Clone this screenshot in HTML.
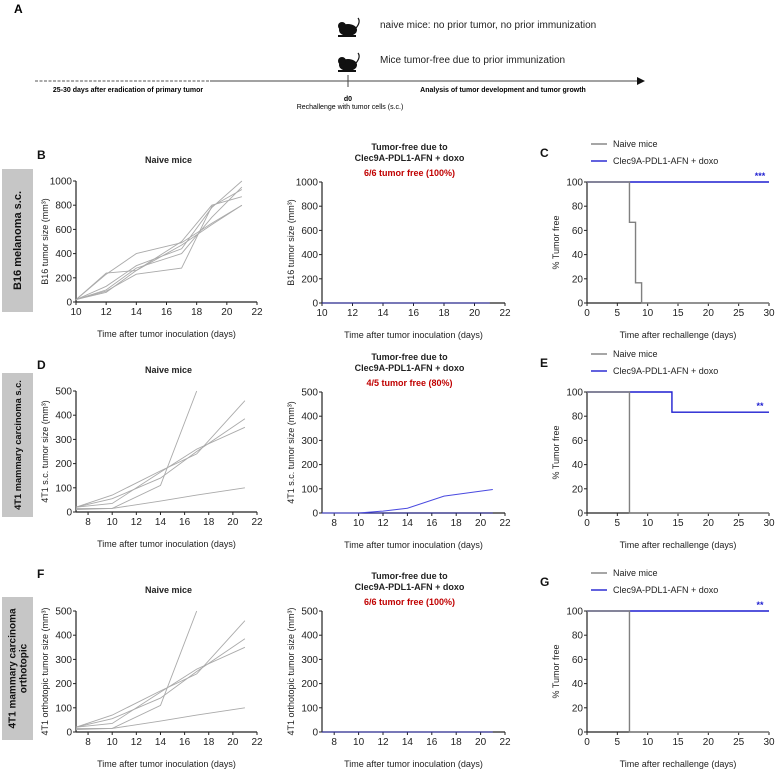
<!DOCTYPE html>
<html><head><meta charset="utf-8"><style>
body{margin:0;background:#fff}
svg{display:block;font-family:"Liberation Sans",Arial,sans-serif}
</style></head><body>
<svg id="fig" width="777" height="769" viewBox="0 0 777 769">
<g>
<text x="14" y="13" font-size="12" font-weight="bold">A</text>
<g transform="translate(337,18)">
<ellipse cx="11" cy="12" rx="9" ry="6" fill="#111"/><circle cx="5" cy="8" r="4" fill="#111"/><path d="M19 10 Q24 4 21 0" stroke="#111" fill="none" stroke-width="1.2"/><rect x="1" y="17" width="18" height="2" fill="#111"/></g>
<g transform="translate(337,53)">
<ellipse cx="11" cy="12" rx="9" ry="6" fill="#111"/><circle cx="5" cy="8" r="4" fill="#111"/><path d="M19 10 Q24 4 21 0" stroke="#111" fill="none" stroke-width="1.2"/><rect x="1" y="17" width="18" height="2" fill="#111"/></g>
<text x="380" y="28" font-size="10" fill="#222">naive mice: no prior tumor, no prior immunization</text>
<text x="380" y="63" font-size="10" fill="#222">Mice tumor-free due to prior immunization</text>
<line x1="35" y1="81" x2="210" y2="81" stroke="#555" stroke-dasharray="3,1.5"/>
<line x1="210" y1="81" x2="638" y2="81" stroke="#444"/>
<polygon points="637,77 645,81 637,85" fill="#111"/>
<line x1="348" y1="75" x2="348" y2="87" stroke="#444"/>
<text x="128" y="92" font-size="7" font-weight="bold" text-anchor="middle">25-30 days after eradication of primary tumor</text>
<text x="503" y="92" font-size="7" font-weight="bold" text-anchor="middle">Analysis of tumor development and tumor growth</text>
<text x="348" y="101" font-size="7" font-weight="bold" text-anchor="middle">d0</text>
<text x="350" y="109" font-size="7" text-anchor="middle">Rechallenge with tumor cells (s.c.)</text>
</g>
<g id="charts"></g>
</svg>
<script>
// ---- Data ----
const b16Days = [10, 12, 14, 17, 19, 21];
const b16Naive1 = [20, 240, 260, 500, 800, 870];
const b16Naive2 = [20, 230, 400, 490, 650, 800];
const b16Naive3 = [20, 130, 300, 440, 780, 1000];
const b16Naive4 = [20, 100, 280, 400, 700, 950];
const b16Naive5 = [20, 90, 230, 280, 790, 930];
const b16Naive6 = [20, 80, 260, 470, 640, 800];
const b16Treated = [0, 0, 0, 0, 0, 0];
const b16YTicks = [0, 200, 400, 600, 800, 1000];
const b16XTicks = [10, 12, 14, 16, 18, 20, 22];

const t1Days = [7, 10, 14, 17, 21];
const t1Naive1 = [10, 15, 110, 500];
const t1Naive2 = [20, 70, 170, 240, 460];
const t1Naive3 = [20, 55, 140, 250, 385];
const t1Naive4 = [20, 35, 165, 260, 350];
const t1Naive5 = [15, 15, 45, 70, 100];
const t1TreatedDays = [7, 10, 12, 14, 17, 21];
const t1Treated1 = [0, 0, 8, 20, 70, 97];
const t1Treated0 = [0, 0, 0, 0, 0, 0];
const t1YTicks = [0, 100, 200, 300, 400, 500];
const t1XTicks = [8, 10, 12, 14, 16, 18, 20, 22];

const survXTicks = [0, 5, 10, 15, 20, 25, 30];
const survYTicks = [0, 20, 40, 60, 80, 100];
const cNaiveT = [0, 7, 8, 9, 30];
const cNaiveS = [100, 66.7, 16.7, 0, 0];
const cTreatT = [0, 30];
const cTreatS = [100, 100];
const eNaiveT = [0, 7, 30];
const eNaiveS = [100, 0, 0];
const eTreatT = [0, 14, 30];
const eTreatS = [100, 83.3, 83.3];
const gNaiveT = [0, 7, 30];
const gNaiveS = [100, 0, 0];
const gTreatT = [0, 30];
const gTreatS = [100, 100];

const NS = "http://www.w3.org/2000/svg";
const root = document.getElementById('charts');
function mk(tag, attrs, parent, text) {
  const e = document.createElementNS(NS, tag);
  for (const k in attrs) e.setAttribute(k, attrs[k]);
  if (text !== undefined) e.textContent = text;
  (parent || root).appendChild(e);
  return e;
}
function axes(g, x0, x1, y0, y1, xmin, xmax, ymin, ymax, xt, yt, name) {
  const sx = v => x0 + (v - xmin) / (xmax - xmin) * (x1 - x0);
  const sy = v => y0 - (v - ymin) / (ymax - ymin) * (y0 - y1);
  const xa = mk('line', {x1: x0, y1: y0, x2: x1, y2: y0, stroke: '#222', 'stroke-width': 1.2}, g);
  
  
  const ya = mk('line', {x1: x0, y1: y0, x2: x0, y2: y1, stroke: '#222', 'stroke-width': 1.2}, g);
  
  
  xt.forEach(v => {
    mk('line', {x1: sx(v), y1: y0, x2: sx(v), y2: y0 + 3, stroke: '#222'}, g);
    const t = mk('text', {x: sx(v), y: y0 + 13, 'font-size': 10, 'text-anchor': 'middle', fill: '#222'}, g, v);
    
    
  });
  yt.forEach(v => {
    mk('line', {x1: x0 - 3, y1: sy(v), x2: x0, y2: sy(v), stroke: '#222'}, g);
    const t = mk('text', {x: x0 - 4, y: sy(v) + 3.5, 'font-size': 10, 'text-anchor': 'end', fill: '#222'}, g, v);
    
    
  });
  return {sx, sy};
}
function line(g, s, xs, ys, color, w, name) {
  const n = Math.min(xs.length, ys.length);
  let d = '';
  for (let i = 0; i < n; i++) d += (i ? 'L' : 'M') + s.sx(xs[i]).toFixed(1) + ',' + s.sy(ys[i]).toFixed(1);
  const p = mk('path', {d, fill: 'none', stroke: color, 'stroke-width': w}, g);
  
  
}
function step(g, s, xs, ys, color, w, name) {
  let d = 'M' + s.sx(xs[0]) + ',' + s.sy(ys[0]);
  for (let i = 1; i < xs.length; i++) d += 'L' + s.sx(xs[i]) + ',' + s.sy(ys[i - 1]) + 'L' + s.sx(xs[i]) + ',' + s.sy(ys[i]);
  const p = mk('path', {d, fill: 'none', stroke: color, 'stroke-width': w}, g);
  
  
}
function txt(g, x, y, s, attrs, name, rot) {
  const a = Object.assign({x, y, 'font-size': 9, 'text-anchor': 'middle', fill: '#222'}, attrs);
  if (rot) a.transform = 'rotate(-90 ' + x + ' ' + y + ')';
  const t = mk('text', a, g, s);
  
  
  return t;
}
function sideBox(y0, y1, lines, name, fs) {
  const g = mk('g', {});
  
  
  mk('rect', {x: 2, y: y0, width: 31, height: y1 - y0, fill: '#c6c6c6'}, g);
  const cy = (y0 + y1) / 2;
  lines.forEach((l, i) => {
    const x = 17 + (i - (lines.length - 1) / 2) * 11 + 4;
    txt(g, x, cy, l, {'font-size': fs, 'font-weight': 'bold', fill: '#111'}, name + '-text', true);
  });
}

sideBox(169, 312, ['B16 melanoma s.c.'], 'b16-row-label', 11);
sideBox(373, 517, ['4T1 mammary carcinoma s.c.'], 't1-sc-row-label', 9.3);
sideBox(597, 740, ['4T1 mammary carcinoma', 'orthotopic'], 't1-ortho-row-label', 10);

function tumorPanel(name, label, x0, x1, y0, y1, xmin, xt, yt, ymax, ytitle, title, sub, series, xs, colors) {
  const g = mk('g', {});
  
  
  if (label) txt(g, 37, y1 - 22, label, {'font-size': 12, 'font-weight': 'bold', fill: '#111', 'text-anchor': 'start'}, name + '-panel-letter');
  const s = axes(g, x0, x1, y0, y1, xmin, 22, 0, ymax, xt, yt, name);
  series.forEach((ys, i) => line(g, s, xs[i], ys, colors[i], colors[i] === '#aaa' ? 0.9 : 1, name + '-series-' + (i + 1)));
  txt(g, x0 - 28, (y0 + y1) / 2, ytitle, {'font-size': 9}, name + '-y-axis-title', true);
  txt(g, (x0 + x1) / 2, y0 + 35, 'Time after tumor inoculation (days)', {'font-size': 9}, name + '-x-axis-title');
  if (sub) {
    txt(g, (x0 + x1) / 2 - 4, y1 - 32, 'Tumor-free due to', {'font-size': 9, 'font-weight': 'bold'}, name + '-title-line1');
    txt(g, (x0 + x1) / 2 - 4, y1 - 21, 'Clec9A-PDL1-AFN + doxo', {'font-size': 9, 'font-weight': 'bold'}, name + '-title-line2');
    txt(g, (x0 + x1) / 2 - 4, y1 - 6, sub, {'font-size': 9, 'font-weight': 'bold', fill: '#c00000'}, name + '-tumor-free-count');
  } else {
    txt(g, (x0 + x1) / 2 + 2, y1 - 18, title, {'font-size': 9, 'font-weight': 'bold'}, name + '-title');
  }
}
const G = '#aaa';
tumorPanel('b16-naive-chart', 'B', 76, 257, 302, 181, 10, b16XTicks, b16YTicks, 1000, 'B16 tumor size (mm³)', 'Naive mice', null,
  [b16Naive1, b16Naive2, b16Naive3, b16Naive4, b16Naive5, b16Naive6], [b16Days, b16Days, b16Days, b16Days, b16Days, b16Days], [G, G, G, G, G, G]);
tumorPanel('b16-treated-chart', null, 322, 505, 303, 182, 10, b16XTicks, b16YTicks, 1000, 'B16 tumor size (mm³)', '', '6/6 tumor free (100%)',
  [b16Treated], [b16Days], ['#2a2aa8']);
tumorPanel('t1-sc-naive-chart', 'D', 76, 257, 512, 391, 7, t1XTicks, t1YTicks, 500, '4T1 s.c. tumor size (mm³)', 'Naive mice', null,
  [t1Naive1, t1Naive2, t1Naive3, t1Naive4, t1Naive5], [t1Days, t1Days, t1Days, t1Days, t1Days], [G, G, G, G, G]);
tumorPanel('t1-sc-treated-chart', null, 322, 505, 513, 392, 7, t1XTicks, t1YTicks, 500, '4T1 s.c. tumor size (mm³)', '', '4/5 tumor free (80%)',
  [t1Treated0, t1Treated1], [t1TreatedDays, t1TreatedDays], ['#1a1a90', '#4a4ae0']);
tumorPanel('t1-ortho-naive-chart', null, 76, 257, 732, 611, 7, t1XTicks, t1YTicks, 500, '4T1 orthotopic tumor size (mm³)', 'Naive mice', null,
  [t1Naive1, t1Naive2, t1Naive3, t1Naive4, t1Naive5], [t1Days, t1Days, t1Days, t1Days, t1Days], [G, G, G, G, G]);
txt(root, 37, 578, 'F', {'font-size': 12, 'font-weight': 'bold', fill: '#111', 'text-anchor': 'start'}, 'panel-letter-f');
tumorPanel('t1-ortho-treated-chart', null, 322, 505, 732, 611, 7, t1XTicks, t1YTicks, 500, '4T1 orthotopic tumor size (mm³)', '', '6/6 tumor free (100%)',
  [t1Treated0], [t1TreatedDays], ['#2a2aa8']);

function survPanel(name, label, y0, y1, nt, ns, tt, ts, stars) {
  const g = mk('g', {});
  
  
  const x0 = 587, x1 = 769;
  txt(g, 540, y1 - 25, label, {'font-size': 12, 'font-weight': 'bold', fill: '#111', 'text-anchor': 'start'}, name + '-panel-letter');
  const s = axes(g, x0, x1, y0, y1, 0, 30, 0, 100, survXTicks, survYTicks, name);
  step(g, s, tt, ts, '#1f1fd0', 1.4, name + '-treated-curve');
  step(g, s, nt, ns, '#808080', 1.4, name + '-naive-curve');
  txt(g, x0 - 28, (y0 + y1) / 2, '% Tumor free', {'font-size': 9}, name + '-y-axis-title', true);
  txt(g, (x0 + x1) / 2, y0 + 35, 'Time after rechallenge (days)', {'font-size': 9}, name + '-x-axis-title');
  const l1 = mk('g', {}, g);  
  mk('line', {x1: 591, y1: y1 - 38, x2: 607, y2: y1 - 38, stroke: '#808080', 'stroke-width': 1.4}, l1);
  txt(l1, 613, y1 - 35, 'Naive mice', {'font-size': 9, 'text-anchor': 'start'}, name + '-legend-naive-text');
  const l2 = mk('g', {}, g);  
  mk('line', {x1: 591, y1: y1 - 21, x2: 607, y2: y1 - 21, stroke: '#1f1fd0', 'stroke-width': 1.4}, l2);
  txt(l2, 613, y1 - 18, 'Clec9A-PDL1-AFN + doxo', {'font-size': 9, 'text-anchor': 'start'}, name + '-legend-treated-text');
  txt(g, 760, s.sy(ts[ts.length - 1]) - 3, stars, {'font-size': 9, 'font-weight': 'bold', fill: '#1f1fd0'}, name + '-significance');
}
survPanel('b16-survival-chart', 'C', 303, 182, cNaiveT, cNaiveS, cTreatT, cTreatS, '***');
survPanel('t1-sc-survival-chart', 'E', 513, 392, eNaiveT, eNaiveS, eTreatT, eTreatS, '**');
survPanel('t1-ortho-survival-chart', 'G', 732, 611, gNaiveT, gNaiveS, gTreatT, gTreatS, '**');
</script>
</body></html>
